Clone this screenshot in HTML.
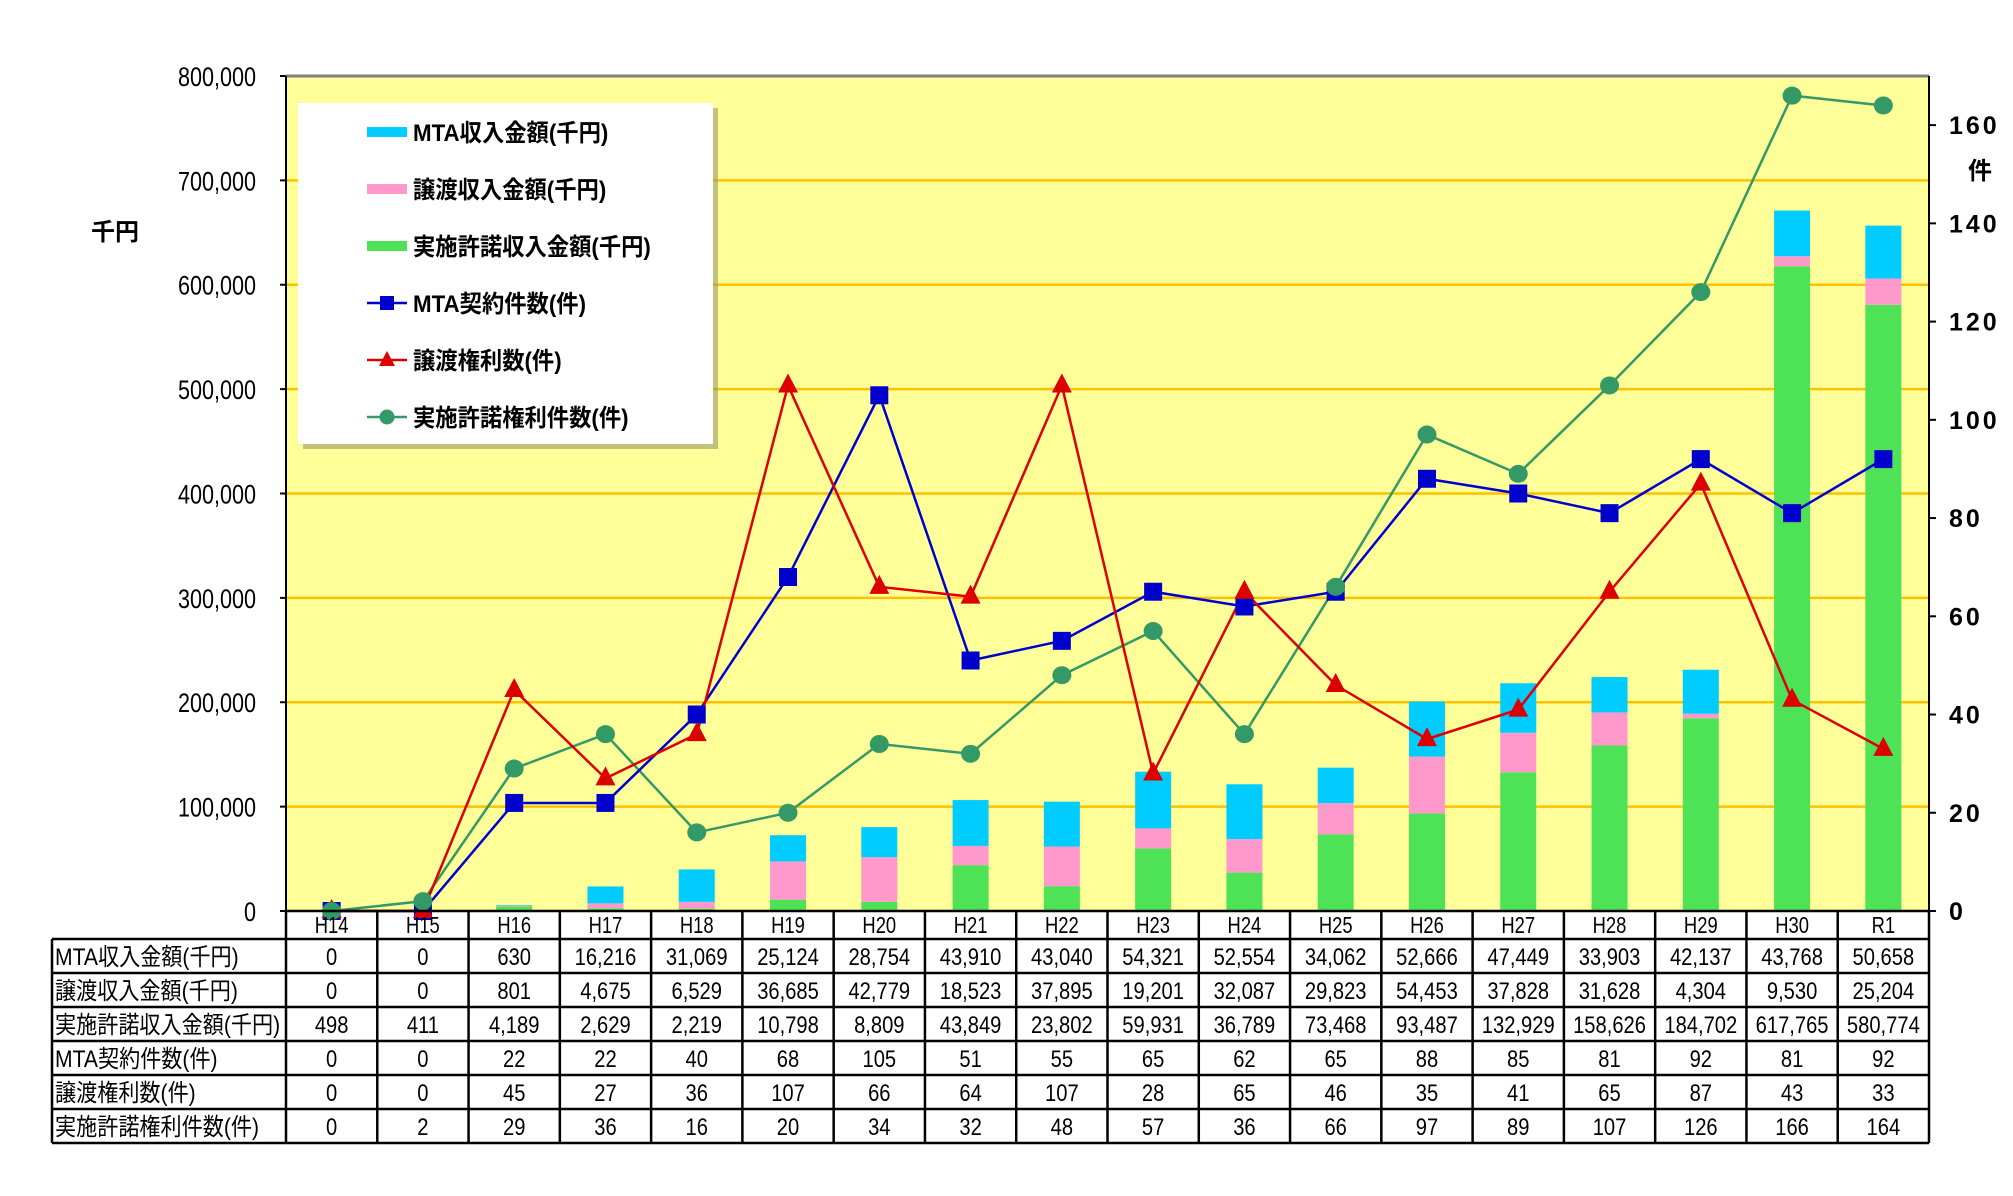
<!DOCTYPE html>
<html><head><meta charset="utf-8">
<style>
html,body{margin:0;padding:0;background:#fff;}
svg{display:block;}
text{font-family:"Liberation Sans","Noto Sans CJK JP",sans-serif;}
</style></head>
<body>
<svg id="s" width="2013" height="1196" xmlns="http://www.w3.org/2000/svg"></svg>
<script>
const L=286,R=1929,T=76,B=911;
const W=(R-L)/18;
const labels=["H14","H15","H16","H17","H18","H19","H20","H21","H22","H23","H24","H25","H26","H27","H28","H29","H30","R1"];
const mta=[0,0,630,16216,31069,25124,28754,43910,43040,54321,52554,34062,52666,47449,33903,42137,43768,50658];
const jt=[0,0,801,4675,6529,36685,42779,18523,37895,19201,32087,29823,54453,37828,31628,4304,9530,25204];
const js=[498,411,4189,2629,2219,10798,8809,43849,23802,59931,36789,73468,93487,132929,158626,184702,617765,580774];
const mc=[0,0,22,22,40,68,105,51,55,65,62,65,88,85,81,92,81,92];
const jc=[0,0,45,27,36,107,66,64,107,28,65,46,35,41,65,87,43,33];
const sc=[0,2,29,36,16,20,34,32,48,57,36,66,97,89,107,126,166,164];
const fmt=n=>n.toLocaleString('en-US');
const yl=v=>B-v*(B-T)/800000, yr=v=>B-v*(B-T)/170, cx=i=>L+W*(i+0.5);
const sx=(x,s)=>`transform="translate(${x*(1-s)},0) scale(${s},1)"`;
let h='';
h+=`<rect x="${L}" y="${T}" width="${R-L}" height="${B-T}" fill="#ffff99"/>`;
for(let k=1;k<8;k++){h+=`<line x1="${L}" x2="${R}" y1="${yl(k*100000)}" y2="${yl(k*100000)}" stroke="#ffc000" stroke-width="2.5"/>`;}
h+=`<line x1="${L}" x2="${R}" y1="${T}" y2="${T}" stroke="#808080" stroke-width="3"/>`;
h+=`<line x1="${L}" x2="${L}" y1="${T}" y2="${B}" stroke="#000" stroke-width="2"/>`;
h+=`<line x1="${R}" x2="${R}" y1="${T}" y2="${B}" stroke="#000" stroke-width="2"/>`;
for(let k=0;k<=8;k++){const y=yl(k*100000);h+=`<line x1="${L-6}" x2="${L}" y1="${y}" y2="${y}" stroke="#000" stroke-width="2"/>`;
 h+=`<text x="256" y="${y+10}" font-size="27" text-anchor="end" ${sx(256,0.8)}>${k==0?'0':fmt(k*100000)}</text>`;}
for(let k=0;k<=160;k+=20){const y=yr(k);h+=`<line x1="${R}" x2="${R+7}" y1="${y}" y2="${y}" stroke="#000" stroke-width="2"/>`;
 h+=`<text x="1949" y="${y+9}" font-size="25" font-weight="bold" letter-spacing="3">${k}</text>`;}
h+=`<text x="91" y="240" font-size="24" font-weight="bold">千円</text>`;
h+=`<text x="1968" y="179" font-size="24" font-weight="bold">件</text>`;
for(let i=0;i<18;i++){const x=cx(i)-18;let b=B;
 const segs=[[js[i],'#4ee257'],[jt[i],'#ff99cc'],[mta[i],'#00ccff']];
 for(const [v,c] of segs){const hh=v*(B-T)/800000;if(hh>0){h+=`<rect x="${x}" y="${b-hh}" width="36" height="${hh}" fill="${c}"/>`;b-=hh;}}}
function line(d,c){return `<polyline fill="none" stroke="${c}" stroke-width="2.5" points="${d.map((v,i)=>cx(i)+','+yr(v)).join(' ')}"/>`;}
h+=line(sc,'#339966');h+=line(mc,'#0000cc');h+=line(jc,'#dd0000');
for(let i=0;i<18;i++){h+=`<rect x="${cx(i)-9}" y="${yr(mc[i])-9}" width="18" height="18" fill="#0000cc"/>`;}
for(let i=0;i<18;i++){const x=cx(i),y=yr(jc[i]);h+=`<polygon points="${x},${y-12} ${x-10},${y+7} ${x+10},${y+7}" fill="#dd0000"/>`;}
for(let i=0;i<18;i++){h+=`<ellipse cx="${cx(i)}" cy="${yr(sc[i])}" rx="9.5" ry="9" fill="#339966"/>`;}
h+=`<rect x="303" y="108" width="415" height="341" fill="#999966" opacity="0.6"/>`;
h+=`<rect x="298" y="103" width="415" height="341" fill="#fff"/>`;
const leg=[["MTA収入金額(千円)","bar","#00ccff"],["譲渡収入金額(千円)","bar","#ff99cc"],["実施許諾収入金額(千円)","bar","#4ee257"],["MTA契約件数(件)","sq","#0000cc"],["譲渡権利数(件)","tri","#dd0000"],["実施許諾権利件数(件)","cir","#339966"]];
leg.forEach((e,j)=>{const y=132+j*57;
 if(e[1]=='bar')h+=`<rect x="367" y="${y-5}" width="40" height="10" fill="${e[2]}"/>`;
 else{h+=`<line x1="367" x2="407" y1="${y}" y2="${y}" stroke="${e[2]}" stroke-width="2.5"/>`;
  if(e[1]=='sq')h+=`<rect x="380" y="${y-7}" width="14" height="14" fill="${e[2]}"/>`;
  if(e[1]=='tri')h+=`<polygon points="387,${y-9} 379,${y+6} 395,${y+6}" fill="${e[2]}"/>`;
  if(e[1]=='cir')h+=`<ellipse cx="387" cy="${y}" rx="7.5" ry="7.5" fill="${e[2]}"/>`;}
 h+=`<text x="413" y="${y+9}" font-size="24" font-weight="bold" ${sx(413,0.93)}>${e[0]}</text>`;});
const rows=[["MTA収入金額(千円)",mta],["譲渡収入金額(千円)",jt],["実施許諾収入金額(千円)",js],["MTA契約件数(件)",mc],["譲渡権利数(件)",jc],["実施許諾権利件数(件)",sc]];
const T0=911,H0=939,RH=34,TL=52;
for(let i=0;i<18;i++){h+=`<text x="${cx(i)}" y="${H0-6}" font-size="23" text-anchor="middle" ${sx(cx(i),0.8)}>${labels[i]}</text>`;}
rows.forEach((r,j)=>{const y=H0+j*RH;
 h+=`<text x="${TL+3}" y="${y+26}" font-size="24" ${sx(TL+3,0.88)}>${r[0]}</text>`;
 for(let i=0;i<18;i++)h+=`<text x="${cx(i)}" y="${y+26}" font-size="24" text-anchor="middle" ${sx(cx(i),0.84)}>${fmt(r[1][i])}</text>`;});
for(let j=0;j<=6;j++){const y=H0+j*RH;h+=`<line x1="${TL}" x2="${R}" y1="${y}" y2="${y}" stroke="#000" stroke-width="2.5"/>`;}
h+=`<line x1="${TL}" x2="${TL}" y1="${H0}" y2="${H0+6*RH}" stroke="#000" stroke-width="2.5"/>`;
for(let i=0;i<=18;i++){const x=L+i*W;h+=`<line x1="${x}" x2="${x}" y1="${T0}" y2="${H0+6*RH}" stroke="#000" stroke-width="2.5"/>`;}
h+=`<line x1="${L}" x2="${R}" y1="${T0}" y2="${T0}" stroke="#000" stroke-width="2.5"/>`;
document.getElementById('s').innerHTML=h;
</script>
</body></html>
